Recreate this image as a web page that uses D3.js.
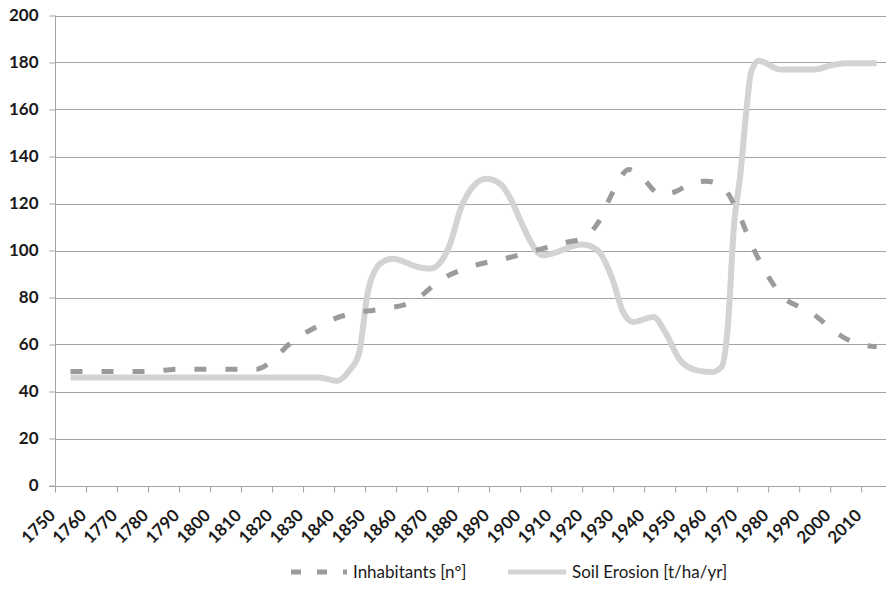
<!DOCTYPE html>
<html>
<head>
<meta charset="utf-8">
<script src="https://cdn.jsdelivr.net/npm/d3@7"></script>
<style>
  html, body { margin: 0; padding: 0; background: #fff; }
  svg { display: block; }
  text { font-family: Lato, "Open Sans", sans-serif; fill: #1a1a1a; }
</style>
</head>
<body>
<svg id="chart" width="887" height="608"></svg>
<script>
// ---- data ----
const seriesNames = ["Inhabitants [nº]", "Soil Erosion [t/ha/yr]"];

const inhabitantsYears  = [1755, 1780, 1790, 1810, 1815, 1820, 1825, 1835, 1845, 1855, 1865, 1875, 1885, 1895, 1905, 1915, 1920, 1925, 1930, 1935, 1940, 1945, 1950, 1955, 1960, 1965, 1970, 1975, 1980, 1985, 1990, 1995, 2000, 2005, 2010, 2015];
const inhabitantsValues = [48.5, 48.5, 49.5, 49.5, 49.5, 53, 59.5, 68, 73, 75, 78, 88, 93.5, 96.5, 100, 103.5, 105, 111.5, 125, 134.5, 130, 124, 125, 128.5, 129.5, 127.5, 117, 101.5, 89, 80, 76, 72.5, 67, 62.5, 60, 59];

const soilYears  = [1755, 1835, 1841, 1845, 1848, 1851, 1855, 1859, 1867, 1871, 1874, 1877, 1881.5, 1889, 1893.5, 1897.7, 1900, 1907.4, 1920, 1925, 1930, 1933, 1936.5, 1943, 1947, 1951.6, 1957, 1962, 1965, 1967, 1969, 1971, 1973, 1974.5, 1977, 1984, 1994.5, 2001, 2005, 2015];
const soilValues = [46, 46, 44.5, 49, 56, 83, 94.5, 96.5, 93, 92.3, 94.5, 101.4, 120, 130.5, 128.4, 120, 113, 98, 102.5, 100, 87, 74.5, 69.6, 71.7, 64.7, 53.3, 49, 48.3, 50.5, 68, 111, 132, 160, 176, 180.7, 177, 177, 179, 179.7, 179.7];

const xTickValues = d3.range(1750, 2011, 10);
const yTickValues = d3.range(0, 201, 20);

// ---- layout ----
const svg = d3.select("#chart");
const plotLeft = 55, plotRight = 886, plotTop = 15.5, plotBottom = 485.5;

const x = d3.scaleLinear().domain([1750, 2018]).range([plotLeft, plotRight]);
const y = d3.scaleLinear().domain([0, 200]).range([plotBottom, plotTop]);

const gridColor = "#a3a3a3";
const inhabColor = "#9b9b9b";
const soilColor = "#d3d3d3";

// gridlines
svg.append("g")
  .selectAll("line")
  .data(yTickValues)
  .join("line")
  .attr("x1", plotLeft).attr("x2", plotRight)
  .attr("y1", d => Math.round(y(d)) + 0.5).attr("y2", d => Math.round(y(d)) + 0.5)
  .attr("stroke", gridColor).attr("stroke-width", 1);

// y axis
const yAxis = d3.axisLeft(y).tickValues(yTickValues).tickSize(6).tickPadding(11).tickFormat(d3.format("d"));
const gy = svg.append("g").attr("transform", `translate(${plotLeft + 0.5},0)`).call(yAxis);
gy.select(".domain").attr("stroke", gridColor).attr("d", `M0,${plotTop}V${plotBottom}`);
gy.selectAll(".tick line").attr("stroke", gridColor);
gy.selectAll(".tick text")
  .attr("font-family", "Lato, sans-serif")
  .attr("font-weight", "bold").attr("font-size", 17).attr("fill", "#1a1a1a");

// x axis
const xAxis = d3.axisBottom(x).tickValues(xTickValues).tickSize(6).tickFormat(d3.format("d"));
const gx = svg.append("g").attr("transform", `translate(0,${Math.round(plotBottom) + 0.5})`).call(xAxis);
gx.select(".domain").attr("stroke", gridColor).attr("d", `M${plotLeft - 6},0H${plotRight}`);
gx.selectAll(".tick line").attr("stroke", gridColor);
gx.selectAll(".tick text")
  .attr("font-family", "Lato, sans-serif")
  .attr("font-weight", "bold").attr("font-size", 17).attr("fill", "#1a1a1a")
  .attr("text-anchor", "end")
  .attr("dy", 0)
  .attr("y", 0)
  .attr("transform", "translate(1,30) rotate(-45)");

// lines
const inhab = inhabitantsYears.map((yr, i) => ({ yr, v: inhabitantsValues[i] }));
const soil = soilYears.map((yr, i) => ({ yr, v: soilValues[i] }));

const line = d3.line().x(d => x(d.yr)).y(d => y(d.v)).curve(d3.curveMonotoneX);

svg.append("path").datum(soil)
  .attr("d", line).attr("fill", "none")
  .attr("stroke", soilColor).attr("stroke-width", 6).attr("stroke-linejoin", "round");

svg.append("path").datum(inhab)
  .attr("d", line).attr("fill", "none")
  .attr("stroke", inhabColor).attr("stroke-width", 5)
  .attr("stroke-dasharray", "12,19");

// legend
const legend = svg.append("g");
const ly = 572;
legend.append("line").attr("x1", 291).attr("x2", 347).attr("y1", ly).attr("y2", ly)
  .attr("stroke", inhabColor).attr("stroke-width", 5).attr("stroke-dasharray", "10,16");
legend.append("text").attr("x", 353).attr("y", ly).attr("dy", "0.35em")
  .attr("font-size", 17).text(seriesNames[0]);
legend.append("line").attr("x1", 508).attr("x2", 566).attr("y1", ly).attr("y2", ly)
  .attr("stroke", soilColor).attr("stroke-width", 5);
legend.append("text").attr("x", 572).attr("y", ly).attr("dy", "0.35em")
  .attr("font-size", 17).text(seriesNames[1]);
</script>
</body>
</html>
